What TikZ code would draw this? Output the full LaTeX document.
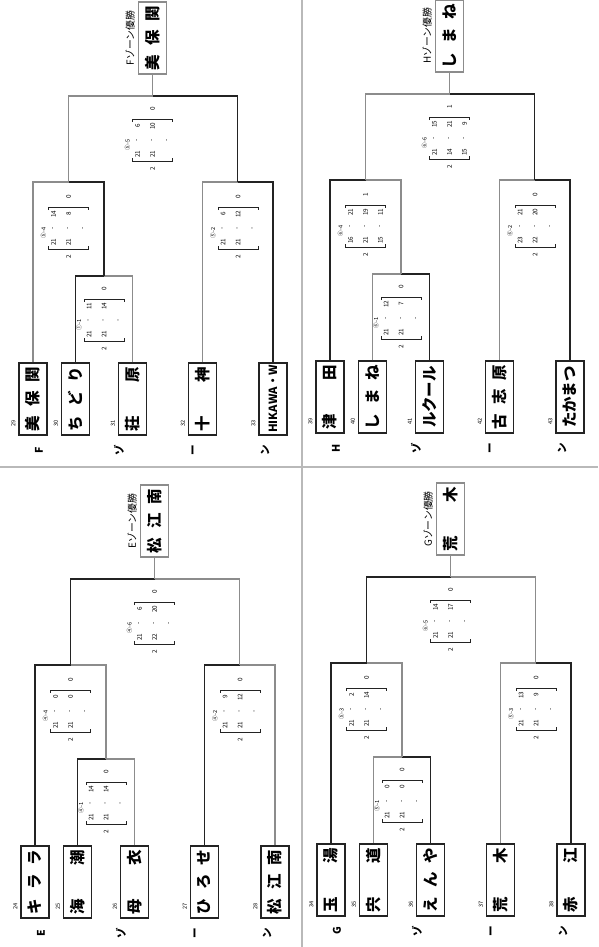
\documentclass[tikz,border=0pt]{standalone}
\usepackage{fontspec}
\setmainfont{Noto Sans CJK JP}
\usetikzlibrary{calc}
\definecolor{redline}{RGB}{140, 140, 140}
\definecolor{inkblack}{RGB}{35, 35, 35}

\newcommand\namefont{\fontsize{22}{22}\selectfont\bfseries}
\newcommand\latinname{\fontsize{16}{16}\selectfont\bfseries}
\newcommand\spread[1]{\makebox[32mm][s]{#1}}

% score block: name, centre, match label, upper/lower pairs, games won top, games won bottom
\newcommand\scoreblock[6]{%
  \begin{scope}[shift={#2}]
    \draw[bracketline] (-20,-18) -- (-20,-21) -- (20,-21) -- (20,-18);
    \draw[bracketline] (-20,18) -- (-20,21) -- (20,21) -- (20,18);
    \node[scorelabel] (#1-lab) at (-25,5) {#3};
    \foreach \i in {1,2,3}
      \node[score] (#1-d\i) at (15*\i-30,0) {-};
    \foreach \u/\l [count=\i] in {#4} {
      \node[score] (#1-u\i) at (15*\i-30,-14) {\u};
      \node[score] (#1-l\i) at (15*\i-30,14) {\l};
    }
    \node[score] (#1-top) at (0,-31) {#5};
    \node[score] (#1-bot) at (0,29) {#6};
  \end{scope}}

% letters under the teams
\newcommand\zonefoot[2]{%
  \foreach \c/\x [count=\i] in {#2/39,ゾ/119,ー/194,ン/265}
    \node[zoneletter] (#1-foot\i) at (\x,450) {\c};}

\begin{document}
\begin{tikzpicture}[
    x=0.5mm, y=-0.5mm,
    team/.style={draw=inkblack, line width=1.8pt, rotate=90, minimum width=36mm,
                 minimum height=14mm, inner sep=0pt, font=\namefont},
    champ/.style={team, draw=redline},
    seed/.style={rotate=90, inner sep=0pt, font=\fontsize{8}{8}\selectfont},
    zoneletter/.style={rotate=90, inner sep=0pt, font=\fontsize{15}{15}\selectfont\bfseries},
    zonetitle/.style={rotate=90, inner sep=0pt, font=\fontsize{14}{14}\selectfont},
    score/.style={rotate=90, inner sep=0pt, font=\fontsize{9}{9}\selectfont},
    scorelabel/.style={rotate=90, inner sep=0pt, font=\fontsize{8}{8}\selectfont},
    bracketline/.style={inkblack, line width=1.3pt},
    win/.style={redline, line width=1.9pt},
    lose/.style={inkblack, line width=1.9pt},
    divider/.style={gray!55, line width=2.4pt}
]
  \useasboundingbox (0,0) rectangle (598,947);
  \draw[divider] (302,0) -- (302,947);
  \draw[divider] (0,467) -- (598,467);

  % ---- F zone ----
  \begin{scope}[shift={(0,0)}]
    \node[team] (F29) at (33,399) {\spread{美 保 関}};
    \node[team] (F30) at (75.5,399) {\spread{ち ど り}};
    \node[team] (F31) at (132.5,399) {\spread{荘 原}};
    \node[team] (F32) at (202.5,399) {\spread{十 神}};
    \node[team, font=\latinname] (F33) at (273,399) {HIKAWA・W};
    \foreach \n in {29,...,33}
      \node[seed] (seed\n) at ($(F\n.north west)+(-5,-12)$) {\n};
    \zonefoot{F}{F}
    \node[champ] (Fwin) at (152.5,38) {\spread{美 保 関}};
    \node[zonetitle] (Ftitle) at (130,38) {Fゾーン優勝};

    \coordinate (Fm1) at (104,276);
    \coordinate (Fs1) at (68.5,182);
    \coordinate (Fs2) at (237.75,182);
    \coordinate (Ff) at (152.5,96);
    \draw[lose] (F30.east) |- (Fm1);
    \draw[win] (F31.east) |- (Fm1);
    \draw[lose] (Fm1) |- (Fs1);
    \draw[win] (F29.east) |- (Fs1);
    \draw[lose] (F33.east) |- (Fs2);
    \draw[win] (F32.east) |- (Fs2);
    \draw[lose] (Fs2) |- (Ff);
    \draw[win] (Fs1) |- (Ff);
    \draw[win] (Ff) -- (Fwin.west);

    \scoreblock{Fm1}{(104,320)}{①-1}{11/21,14/21}{0}{2}
    \scoreblock{Fs1}{(68.5,228)}{⑤-4}{14/21,8/21}{0}{2}
    \scoreblock{Fs2}{(238,228)}{⑤-2}{6/21,12/21}{0}{2}
    \scoreblock{Ff}{(152.5,140)}{⑤-5}{6/21,10/21}{0}{2}
  \end{scope}

  % ---- H zone ----
  \begin{scope}[shift={(297,-2)}]
    \node[team] (H39) at (33,399) {\spread{津 田}};
    \node[team] (H40) at (75.5,399) {\spread{し ま ね}};
    \node[team] (H41) at (132.5,399) {ルクール};
    \node[team] (H42) at (202.5,399) {\spread{古 志 原}};
    \node[team] (H43) at (273,399) {たかまつ};
    \foreach \n in {39,...,43}
      \node[seed] (seed\n) at ($(H\n.north west)+(-5,-12)$) {\n};
    \zonefoot{H}{H}
    \node[champ] (Hwin) at (152.5,38) {\spread{し ま ね}};
    \node[zonetitle] (Htitle) at (130,38) {Hゾーン優勝};

    \coordinate (Hm1) at (104,276);
    \coordinate (Hs1) at (68.5,182);
    \coordinate (Hs2) at (237.75,182);
    \coordinate (Hf) at (152.5,96);
    \draw[lose] (H41.east) |- (Hm1);
    \draw[win] (H40.east) |- (Hm1);
    \draw[lose] (H39.east) |- (Hs1);
    \draw[win] (Hm1) |- (Hs1);
    \draw[lose] (H43.east) |- (Hs2);
    \draw[win] (H42.east) |- (Hs2);
    \draw[lose] (Hs2) |- (Hf);
    \draw[win] (Hs1) |- (Hf);
    \draw[win] (Hf) -- (Hwin.west);

    \scoreblock{Hm1}{(104,320)}{⑥-1}{12/21,7/21}{0}{2}
    \scoreblock{Hs1}{(68.5,228)}{⑥-4}{21/16,19/21,11/15}{1}{2}
    \scoreblock{Hs2}{(238,228)}{⑥-2}{21/23,20/22}{0}{2}
    \scoreblock{Hf}{(152.5,140)}{⑥-6}{15/21,21/14,9/15}{1}{2}
  \end{scope}

  % ---- E zone ----
  \begin{scope}[shift={(2,483)}]
    \node[team] (E24) at (33,399) {\spread{キ ラ ラ}};
    \node[team] (E25) at (75.5,399) {\spread{海 潮}};
    \node[team] (E26) at (132.5,399) {\spread{母 衣}};
    \node[team] (E27) at (202.5,399) {\spread{ひ ろ せ}};
    \node[team] (E28) at (273,399) {\spread{松 江 南}};
    \foreach \n in {24,...,28}
      \node[seed] (seed\n) at ($(E\n.north west)+(-5,-12)$) {\n};
    \zonefoot{E}{E}
    \node[champ] (Ewin) at (152.5,38) {\spread{松 江 南}};
    \node[zonetitle] (Etitle) at (130,38) {Eゾーン優勝};

    \coordinate (Em1) at (104,276);
    \coordinate (Es1) at (68.5,182);
    \coordinate (Es2) at (237.75,182);
    \coordinate (Ef) at (152.5,96);
    \draw[lose] (E25.east) |- (Em1);
    \draw[win] (E26.east) |- (Em1);
    \draw[lose] (E24.east) |- (Es1);
    \draw[win] (Em1) |- (Es1);
    \draw[lose] (E27.east) |- (Es2);
    \draw[win] (E28.east) |- (Es2);
    \draw[lose] (Es1) |- (Ef);
    \draw[win] (Es2) |- (Ef);
    \draw[win] (Ef) -- (Ewin.west);

    \scoreblock{Em1}{(104,320)}{④-1}{14/21,14/21}{0}{2}
    \scoreblock{Es1}{(68.5,228)}{④-4}{0/21,0/21}{0}{2}
    \scoreblock{Es2}{(238,228)}{④-2}{9/21,12/21}{0}{2}
    \scoreblock{Ef}{(152.5,140)}{④-6}{6/21,20/22}{0}{2}
  \end{scope}

  % ---- G zone ----
  \begin{scope}[shift={(298,481)}]
    \node[team] (G34) at (33,399) {\spread{玉 湯}};
    \node[team] (G35) at (75.5,399) {\spread{宍 道}};
    \node[team] (G36) at (132.5,399) {\spread{え ん や}};
    \node[team] (G37) at (202.5,399) {\spread{荒 木}};
    \node[team] (G38) at (273,399) {\spread{赤 江}};
    \foreach \n in {34,...,38}
      \node[seed] (seed\n) at ($(G\n.north west)+(-5,-12)$) {\n};
    \zonefoot{G}{G}
    \node[champ] (Gwin) at (152.5,38) {\spread{荒 木}};
    \node[zonetitle] (Gtitle) at (130,38) {Gゾーン優勝};

    \coordinate (Gm1) at (104,276);
    \coordinate (Gs1) at (68.5,182);
    \coordinate (Gs2) at (237.75,182);
    \coordinate (Gf) at (152.5,96);
    \draw[lose] (G36.east) |- (Gm1);
    \draw[win] (G35.east) |- (Gm1);
    \draw[lose] (G34.east) |- (Gs1);
    \draw[win] (Gm1) |- (Gs1);
    \draw[lose] (G38.east) |- (Gs2);
    \draw[win] (G37.east) |- (Gs2);
    \draw[lose] (Gs1) |- (Gf);
    \draw[win] (Gs2) |- (Gf);
    \draw[win] (Gf) -- (Gwin.west);

    \scoreblock{Gm1}{(104,320)}{⑤-1}{0/21,0/21}{0}{2}
    \scoreblock{Gs1}{(68.5,228)}{⑤-3}{2/21,14/21}{0}{2}
    \scoreblock{Gs2}{(238,228)}{⑤-3}{13/21,9/21}{0}{2}
    \scoreblock{Gf}{(152.5,140)}{⑥-5}{14/21,17/21}{0}{2}
  \end{scope}
\end{tikzpicture}
\end{document}
